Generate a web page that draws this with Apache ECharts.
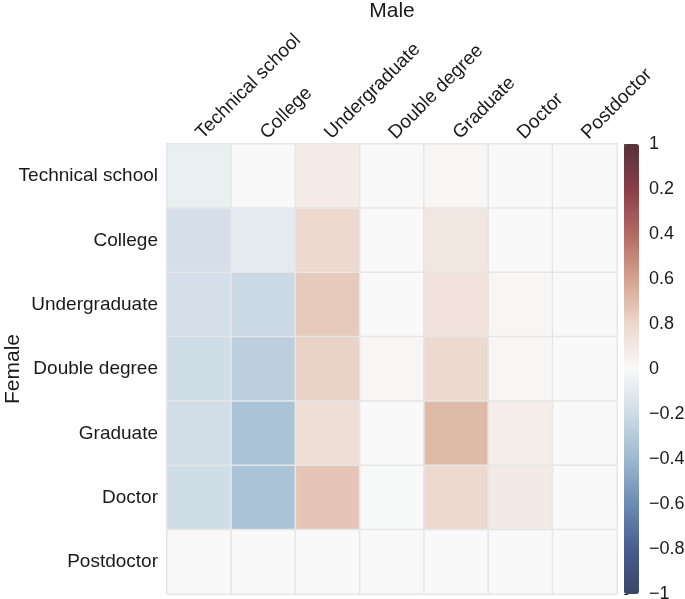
<!DOCTYPE html>
<html>
<head>
<meta charset="utf-8">
<script src="https://cdn.jsdelivr.net/npm/echarts@6/dist/echarts.min.js"></script>
<style>html,body{margin:0;padding:0;background:#fff;}#c{width:685px;height:599px;}</style>
</head>
<body>
<div id="c"></div>
<script>
const maleCats = ['Technical school','College','Undergraduate','Double degree','Graduate','Doctor','Postdoctor'];
const femaleCats = ['Technical school','College','Undergraduate','Double degree','Graduate','Doctor','Postdoctor'];
// rows = female (top to bottom), columns = male (left to right)
const rowTechnical     = [-0.07, 0.00, 0.08, 0.00, 0.02, 0.00, 0.00];
const rowCollege       = [-0.17, -0.10, 0.19, 0.00, 0.11, 0.00, 0.00];
const rowUndergraduate = [-0.17, -0.21, 0.25, 0.00, 0.13, 0.02, 0.00];
const rowDoubleDegree  = [-0.19, -0.27, 0.22, 0.02, 0.19, 0.02, 0.00];
const rowGraduate      = [-0.18, -0.34, 0.16, 0.00, 0.31, 0.07, 0.00];
const rowDoctor        = [-0.19, -0.34, 0.27, -0.01, 0.19, 0.09, 0.00];
const rowPostdoctor    = [0.00, 0.00, 0.00, 0.00, 0.00, 0.00, 0.00];
const colorbarTicks = [-1, -0.8, -0.6, -0.4, -0.2, 0, 0.2, 0.4, 0.6, 0.8, 1];
const colorbarTickLabels = ['\u22121', '\u22120.8', '\u22120.6', '\u22120.4', '\u22120.2', '0', '0.8', '0.6', '0.4', '0.2', '1'];
const paletteStops = ['#3a4466','#475d8f','#6a8cb4','#9db8cf','#cddbe6','#f9f9f9','#ecd7cc','#d4a38c','#b36a63','#8a3d48','#563239'];

const rows = [rowTechnical,rowCollege,rowUndergraduate,rowDoubleDegree,rowGraduate,rowDoctor,rowPostdoctor];
const data = [];
rows.forEach((r, yi) => r.forEach((v, xi) => data.push([xi, yi, v])));

const FONT = "'Liberation Sans', Arial, sans-serif";
const chart = echarts.init(document.getElementById('c'));
chart.setOption({
  animation: false,
  textStyle: { fontFamily: FONT },
  grid: [
    { left: 167, top: 144, width: 450, height: 450, containLabel: false, outerBoundsMode: 'none' },
    { left: 624, top: 144, width: 15, height: 450, containLabel: false, outerBoundsMode: 'none' }
  ],
  xAxis: [
    { type: 'category', data: maleCats, position: 'top', gridIndex: 0,
      name: 'Male', nameLocation: 'middle', nameGap: 122, nameMoveOverlap: false,
      nameTextStyle: { fontSize: 21, color: '#1a1a1a', fontFamily: FONT },
      axisLine: { show: false }, axisTick: { show: false }, splitLine: { show: false },
      axisLabel: { rotate: -45, fontSize: 19, color: '#1a1a1a', margin: 8, fontFamily: FONT } },
    { type: 'value', gridIndex: 1, show: false, min: 0, max: 1 }
  ],
  yAxis: [
    { type: 'category', data: femaleCats, inverse: true, gridIndex: 0,
      name: 'Female', nameLocation: 'middle', nameGap: 143, nameRotate: 90, nameMoveOverlap: false,
      nameTextStyle: { fontSize: 21, color: '#1a1a1a', fontFamily: FONT },
      axisLine: { show: false }, axisTick: { show: false }, splitLine: { show: false },
      axisLabel: { fontSize: 19, color: '#1a1a1a', margin: 9, fontFamily: FONT } },
    { type: 'value', gridIndex: 1, position: 'right', min: -1, max: 1, interval: 0.2,
      axisLine: { show: false }, splitLine: { show: false },
      axisTick: { show: true, length: 4, lineStyle: { color: '#333', width: 1 } },
      axisLabel: { fontSize: 18, color: '#1a1a1a', margin: 10, fontFamily: FONT,
        formatter: function (v) {
          const i = colorbarTicks.findIndex(t => Math.abs(t - v) < 1e-6);
          return i >= 0 ? colorbarTickLabels[i] : '';
        } } }
  ],
  visualMap: {
    type: 'continuous', min: -1, max: 1, calculable: false,
    orient: 'vertical', left: 619, top: 139, itemWidth: 15, itemHeight: 450,
    padding: 5, text: null, seriesIndex: 0,
    inRange: { color: paletteStops }
  },
  series: [{
    type: 'heatmap', xAxisIndex: 0, yAxisIndex: 0, data: data,
    itemStyle: { borderColor: '#e6e6e6', borderWidth: 1.5 },
    emphasis: { disabled: true }
  }]
});
</script>
</body>
</html>
